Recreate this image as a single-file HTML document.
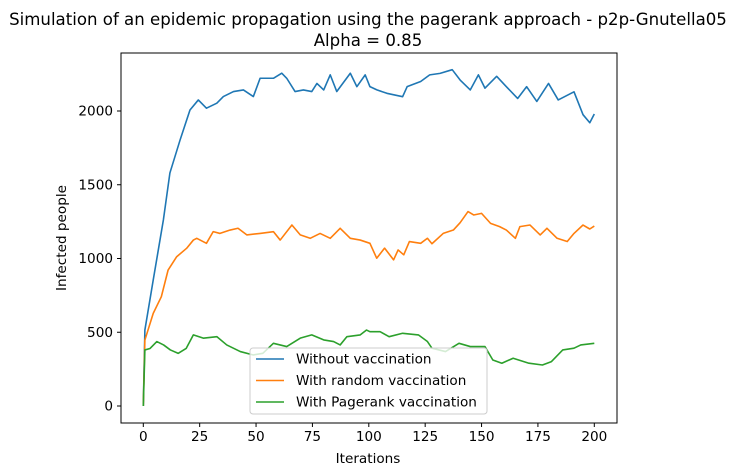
<!DOCTYPE html>
<html><head><meta charset="utf-8"><style>
body{margin:0;background:#fff}
svg{display:block;font-family:"DejaVu Sans","Liberation Sans",sans-serif}
</style></head><body>
<svg id="chart" width="737" height="476" viewBox="0 0 737 476">
<text x="368" y="25" text-anchor="middle" font-size="16.6" fill="#000">Simulation of an epidemic propagation using the pagerank approach - p2p-Gnutella05</text>
<text x="368" y="46" text-anchor="middle" font-size="16.6" fill="#000">Alpha = 0.85</text>
<g id="plot"></g>
<text x="368" y="463" text-anchor="middle" font-size="13.6">Iterations</text>
<text transform="translate(66,238) rotate(-90)" text-anchor="middle" font-size="13.6">Infected people</text>
</svg>
<script>
const xTicks=[0,25,50,75,100,125,150,175,200];
const yTicks=[0,500,1000,1500,2000];
const blueX=[0,0.7,4.4,8.9,11.8,16.3,20.7,24.4,28,32.6,35.5,40,44.4,48.8,51.8,57.7,61.4,63.6,67.3,71,74.7,77,80,82.9,85.8,91.8,94.7,98.4,100.5,103.6,108,115,117,123,127,131.6,137,140.5,145,148.6,151.5,156.7,161,166,170,174.5,179.7,184,191,195,198,200];
const blueY=[0,515,854,1261,1580,1803,2007,2075,2019,2053,2098,2132,2143,2098,2222,2222,2256,2222,2132,2143,2132,2187,2143,2245,2132,2256,2165,2245,2165,2143,2120,2097,2165,2200,2245,2255,2280,2210,2143,2245,2155,2235,2165,2085,2165,2065,2187,2075,2130,1975,1920,1980];
const orangeX=[0,0.7,4.4,8,11,14.8,19.2,22.2,23.7,28,31,34,38.5,42,45.9,51.8,57.7,60.7,65.9,69.6,74,78.4,82.9,87.3,91.8,96.2,100.5,103.5,107,111,113,115.5,118,123,126,128,133,137.5,140.5,144,146.5,150,154,158,161,165,167,171.5,176,179,183.5,188,191,195,198,200];
const orangeY=[0,447,628,741,922,1012,1069,1125,1137,1103,1182,1170,1193,1205,1160,1170,1182,1125,1227,1160,1137,1170,1137,1205,1137,1125,1103,1002,1070,991,1058,1025,1115,1103,1137,1100,1170,1193,1243,1318,1295,1306,1238,1216,1193,1137,1216,1227,1160,1205,1137,1115,1170,1227,1200,1220];
const greenX=[0,0.7,3,6,9,12,15.5,19,22.2,26.6,32.6,37,43,48.8,53,57.7,63.6,69.6,74.7,80,84.4,87.3,90.3,96.2,99,100.5,105,109,115,122,126,128,134,140,145,151.5,155,159,164,171,177,181,186,191,194,200];
const greenY=[0,380,390,437,414,380,357,390,482,460,470,414,369,346,357,425,403,460,482,448,437,414,470,482,515,504,504,470,493,482,437,392,369,425,403,403,312,290,324,290,278,301,380,392,414,425];
const series=[{n:'Without vaccination',c:'#1f77b4',x:blueX,y:blueY,k:'blue'},{n:'With random vaccination',c:'#ff7f0e',x:orangeX,y:orangeY,k:'orange'},{n:'With Pagerank vaccination',c:'#2ca02c',x:greenX,y:greenY,k:'green'}];
const L=121,R=617,T=53,B=423;
const sx=v=>143.3+v*2.255;
const sy=v=>406-v*0.1475;
const NS='http://www.w3.org/2000/svg';
const g=document.getElementById('plot');
function mk(t,a){const e=document.createElementNS(NS,t);for(const k in a)e.setAttribute(k,a[k]);g.appendChild(e);return e;}
series.forEach(s=>{
 const p=mk('polyline',{points:s.x.map((v,i)=>sx(v)+','+sy(s.y[i])).join(' '),fill:'none',stroke:s.c,'stroke-width':1.6,'stroke-linejoin':'round'});
 
 
});
const fr=mk('rect',{x:L,y:T,width:R-L,height:B-T,fill:'none',stroke:'#000','stroke-width':1});


xTicks.forEach(v=>{
 mk('line',{x1:sx(v),x2:sx(v),y1:B,y2:B+4,stroke:'#000'});
 const t=mk('text',{x:sx(v),y:B+18,'text-anchor':'middle','font-size':13.6});t.textContent=v;
 
 
});
yTicks.forEach(v=>{
 mk('line',{x1:L-4,x2:L,y1:sy(v),y2:sy(v),stroke:'#000'});
 const t=mk('text',{x:L-8,y:sy(v)+4.5,'text-anchor':'end','font-size':13.6});t.textContent=v;
 
 
});
const lg=mk('rect',{x:250,y:348,width:237,height:66,rx:3,fill:'#fff','fill-opacity':0.8,stroke:'#ccc'});


series.forEach((s,i)=>{
 const y=359+i*21.5;
 mk('line',{x1:256,x2:284,y1:y,y2:y,stroke:s.c,'stroke-width':1.6});
 const t=mk('text',{x:296,y:y+4.5,'font-size':13.6});t.textContent=s.n;
 
 
});
</script>
</body></html>
